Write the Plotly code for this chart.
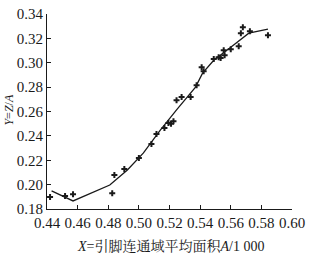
import plotly.graph_objects as go

pts_x = [0.442, 0.4518, 0.457, 0.4826, 0.484, 0.4905, 0.500, 0.5082, 0.5115, 0.5167,
         0.5193, 0.5226, 0.5210, 0.5246, 0.5279, 0.5338, 0.5377, 0.541, 0.5423, 0.5489,
         0.5521, 0.5534, 0.5554, 0.556, 0.560, 0.5652, 0.5666, 0.5679, 0.5725, 0.5843]
pts_y = [0.1898, 0.1907, 0.192, 0.193, 0.208, 0.2128, 0.2218, 0.2333, 0.2415, 0.2464,
         0.2505, 0.2521, 0.2500, 0.2693, 0.2718, 0.2718, 0.2816, 0.2964, 0.2931, 0.303,
         0.3046, 0.3038, 0.3103, 0.3062, 0.3111, 0.3136, 0.3243, 0.3292, 0.3259, 0.3226]

fit_x = [0.443, 0.457, 0.481, 0.4925, 0.503, 0.514, 0.525, 0.537, 0.5416, 0.5489,
         0.560, 0.5718, 0.5843]
fit_y = [0.1948, 0.1866, 0.1997, 0.212, 0.226, 0.2447, 0.262, 0.280, 0.2915, 0.302,
         0.3128, 0.3243, 0.3275]

x_ticks = [0.44, 0.46, 0.48, 0.50, 0.52, 0.54, 0.56, 0.58, 0.60]
y_ticks = [0.18, 0.20, 0.22, 0.24, 0.26, 0.28, 0.30, 0.32, 0.34]

x_title = "<i>X</i>=引脚连通域平均面积<i>A</i>/1 000"
y_title = "<i>Y</i>=<i>Z</i>/<i>A</i>"

ink = "#1a1a1a"
font = "Liberation Serif, Noto Serif CJK SC, Noto Sans CJK SC, serif"

fig = go.Figure()
fig.add_trace(go.Scatter(x=fit_x, y=fit_y, mode="lines",
                         line=dict(color=ink, width=1.3), showlegend=False))
fig.add_trace(go.Scatter(x=pts_x, y=pts_y, mode="markers",
                         marker=dict(symbol="cross", size=5, color=ink,
                                     line=dict(width=0)), showlegend=False))

axis_common = dict(showgrid=False, zeroline=False, showline=True, linecolor=ink,
                   linewidth=1.2, ticks="inside", ticklen=4, tickcolor=ink,
                   tickwidth=1.2, automargin=False, ticklabeloverflow="allow",
                   tickfont=dict(family=font, size=15, color=ink))
fig.update_xaxes(range=[0.44, 0.60], tickvals=x_ticks,
                 ticktext=[f"{v:.2f}" for v in x_ticks], **axis_common)
fig.update_yaxes(range=[0.18, 0.34], tickvals=y_ticks,
                 ticktext=[f"{v:.2f}" for v in y_ticks], **axis_common)
fig.add_annotation(text=x_title, xref="paper", yref="paper", x=0.506, y=-0.19,
                   xanchor="center", yanchor="middle", showarrow=False,
                   font=dict(family=font, size=14, color=ink))
fig.add_annotation(text=y_title, xref="paper", yref="paper", x=-0.155, y=0.51,
                   xanchor="center", yanchor="middle", showarrow=False, textangle=-90,
                   font=dict(family=font, size=12, color=ink))
fig.update_layout(width=330, height=255, margin=dict(l=47, r=38, t=14, b=46),
                  paper_bgcolor="white", plot_bgcolor="white")
fig.write_html("out.html", config={"displayModeBar": False},
               post_script="document.body.style.margin='0';")
